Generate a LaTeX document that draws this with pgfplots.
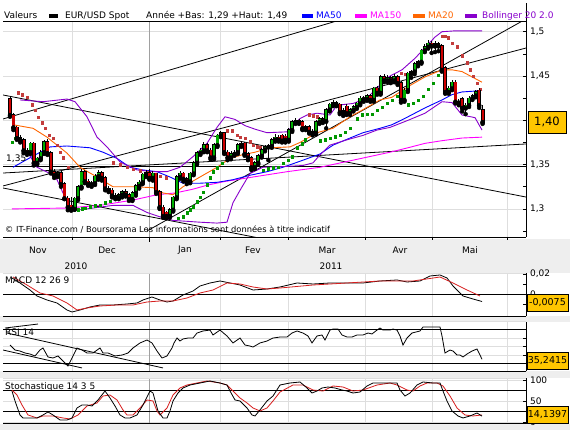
\documentclass[border=0pt]{standalone}
\usepackage{fontspec}
\setmainfont{DejaVu Sans}
\usepackage{pgfplots}
\usepackage{pgfplotstable}
\pgfplotsset{compat=1.18}
\definecolor{bg}{RGB}{238,238,238}
\definecolor{cgreen}{RGB}{0,175,0}
\definecolor{cred}{RGB}{205,0,0}
\definecolor{sarred}{RGB}{195,60,60}
\definecolor{sargreen}{RGB}{0,150,0}
\definecolor{ma50}{RGB}{0,0,255}
\definecolor{ma150}{RGB}{255,0,255}
\definecolor{ma20}{RGB}{255,102,0}
\definecolor{boll}{RGB}{136,0,204}
\definecolor{gridc}{RGB}{222,222,222}
\definecolor{yeargrid}{RGB}{160,160,160}
\definecolor{boxc}{RGB}{255,198,0}
\definecolor{sigred}{RGB}{215,30,30}

\pgfplotstableread{
x o h l c
30.4 1.364 1.376 1.362 1.374
37.2 1.352 1.359 1.350 1.357
40.6 1.357 1.366 1.355 1.364
44 1.364 1.378 1.362 1.376
57.6 1.338 1.343 1.336 1.341
74.6 1.300 1.314 1.299 1.312
78 1.312 1.327 1.310 1.325
81.4 1.325 1.345 1.323 1.342
91.6 1.328 1.332 1.325 1.329
95 1.329 1.339 1.327 1.337
98.4 1.337 1.344 1.333 1.341
118.8 1.313 1.318 1.311 1.316
122.2 1.316 1.321 1.313 1.319
132.4 1.311 1.320 1.309 1.318
135.8 1.318 1.328 1.315 1.326
139.2 1.326 1.333 1.323 1.330
142.6 1.330 1.341 1.328 1.339
146 1.339 1.344 1.336 1.341
152.8 1.335 1.343 1.332 1.340
169.8 1.292 1.301 1.290 1.299
173.2 1.299 1.315 1.297 1.313
176.6 1.313 1.338 1.311 1.336
180 1.336 1.343 1.334 1.340
190.2 1.331 1.342 1.329 1.340
193.6 1.340 1.354 1.338 1.352
197 1.352 1.365 1.350 1.363
200.4 1.363 1.369 1.361 1.366
203.8 1.366 1.375 1.364 1.372
214 1.358 1.374 1.356 1.372
217.4 1.372 1.385 1.370 1.383
220.8 1.383 1.388 1.381 1.386
231 1.358 1.365 1.356 1.362
234.4 1.362 1.367 1.360 1.364
237.8 1.364 1.374 1.362 1.372
241.2 1.372 1.377 1.370 1.374
254.8 1.347 1.354 1.345 1.352
258.2 1.352 1.362 1.350 1.360
261.6 1.360 1.369 1.358 1.367
265 1.367 1.372 1.365 1.370
268.4 1.370 1.373 1.355 1.371
271.8 1.371 1.380 1.369 1.378
275.2 1.378 1.384 1.376 1.381
288.8 1.378 1.391 1.376 1.389
292.2 1.389 1.400 1.387 1.398
295.6 1.398 1.403 1.396 1.400
305.8 1.391 1.395 1.389 1.393
316 1.386 1.400 1.384 1.398
319.4 1.398 1.404 1.396 1.402
326.2 1.399 1.414 1.391 1.412
329.6 1.412 1.420 1.410 1.418
333 1.418 1.423 1.416 1.420
343.2 1.409 1.414 1.405 1.411
350 1.408 1.414 1.406 1.412
353.4 1.412 1.417 1.410 1.415
356.8 1.415 1.421 1.413 1.419
360.2 1.419 1.427 1.417 1.425
367 1.424 1.430 1.422 1.428
373.8 1.423 1.438 1.421 1.436
380.6 1.431 1.451 1.429 1.449
387.4 1.445 1.451 1.443 1.448
394.2 1.445 1.452 1.443 1.449
404.4 1.423 1.436 1.421 1.434
407.8 1.434 1.455 1.432 1.453
411.2 1.453 1.457 1.448 1.455
414.6 1.455 1.466 1.452 1.464
418 1.464 1.468 1.461 1.466
421.4 1.466 1.481 1.464 1.479
424.8 1.479 1.486 1.477 1.483
428.2 1.483 1.491 1.481 1.487
435 1.484 1.489 1.477 1.486
448.6 1.432 1.439 1.430 1.436
452 1.436 1.446 1.434 1.443
465.6 1.414 1.419 1.407 1.417
469 1.417 1.427 1.415 1.425
472.4 1.425 1.430 1.423 1.428
475.8 1.428 1.434 1.426 1.432
}\upcandles

\pgfplotstableread{
x o h l c
10 1.424 1.426 1.404 1.406
13.4 1.406 1.408 1.389 1.392
16.8 1.392 1.394 1.378 1.380
20.2 1.380 1.383 1.375 1.378
23.6 1.378 1.380 1.363 1.366
27 1.366 1.369 1.361 1.364
33.8 1.374 1.376 1.349 1.352
47.4 1.376 1.379 1.361 1.363
50.8 1.363 1.365 1.340 1.342
54.2 1.342 1.345 1.335 1.338
61 1.341 1.343 1.325 1.328
64.4 1.328 1.330 1.311 1.312
67.8 1.312 1.315 1.2985 1.302
71.2 1.304 1.313 1.298 1.300
84.8 1.342 1.344 1.329 1.331
88.2 1.331 1.334 1.326 1.328
101.8 1.341 1.343 1.332 1.335
105.2 1.335 1.337 1.321 1.323
108.6 1.323 1.326 1.319 1.321
112 1.321 1.324 1.313 1.315
115.4 1.315 1.318 1.311 1.313
125.6 1.319 1.322 1.314 1.316
129 1.316 1.318 1.309 1.311
149.4 1.341 1.345 1.333 1.335
156.2 1.340 1.341 1.317 1.319
159.6 1.319 1.321 1.300 1.302
163 1.302 1.304 1.290 1.292
166.4 1.296 1.298 1.2895 1.292
183.4 1.340 1.342 1.331 1.334
186.8 1.334 1.336 1.328 1.331
207.2 1.372 1.374 1.364 1.366
210.6 1.366 1.369 1.356 1.358
224.2 1.386 1.387 1.362 1.364
227.6 1.364 1.367 1.355 1.358
244.6 1.374 1.376 1.360 1.362
248 1.362 1.364 1.355 1.358
251.4 1.358 1.360 1.344 1.347
278.6 1.381 1.383 1.376 1.378
282 1.383 1.385 1.375 1.377
285.4 1.382 1.384 1.375 1.378
299 1.400 1.402 1.396 1.398
302.4 1.398 1.400 1.389 1.391
309.2 1.393 1.395 1.385 1.387
312.6 1.387 1.390 1.383 1.386
322.8 1.402 1.404 1.397 1.399
336.4 1.420 1.422 1.416 1.418
339.8 1.418 1.420 1.407 1.409
346.6 1.416 1.418 1.406 1.408
363.6 1.425 1.428 1.421 1.424
370.4 1.428 1.430 1.421 1.423
377.2 1.436 1.439 1.429 1.431
384 1.449 1.452 1.443 1.445
390.8 1.448 1.450 1.442 1.445
397.6 1.449 1.451 1.440 1.442
401 1.442 1.444 1.420 1.423
431.6 1.487 1.490 1.476 1.484
438.4 1.486 1.488 1.478 1.484
441.8 1.484 1.486 1.455 1.457
445.2 1.459 1.461 1.430 1.432
455.4 1.443 1.445 1.419 1.421
458.8 1.421 1.424 1.417 1.420
462.2 1.424 1.426 1.410 1.414
479.2 1.434 1.436 1.414 1.417
482.6 1.412 1.417 1.396 1.398
}\downcandles

\pgfplotsset{
  panel/.style={
    scale only axis, width=523pt, xmin=3, xmax=526,
    anchor=south west,
    axis line style={draw=none},
    xtick={72.7,220.7,288,365.5,432.7,507.3}, xticklabels={},
    xtick style={draw=none},
    extra x ticks={149.8}, extra x tick labels={},
    extra x tick style={grid=major, major grid style={draw=yeargrid, line width=0.8pt}, xtick style={draw=none}},
    xmajorgrids, grid style={draw=gridc, line width=0.8pt},
    ytick pos=right, yticklabel pos=right, tick align=inside,
    major tick length=3pt, minor tick length=3pt,
    ytick style={black, line width=0.6pt},
    yticklabel style={font=\fontsize{9}{10}\selectfont, xshift=0.5pt},
    scaled y ticks=false,
    clip mode=individual,
  },
  wick/.style={only marks, mark=none, forget plot, error bars/.cd, y dir=plus, y explicit, error mark=none, error bar style={black, line width=0.9pt}},
  bodyout/.style={only marks, mark=none, forget plot, error bars/.cd, y dir=plus, y explicit, error mark=none, error bar style={black, line width=3.8pt}},
  bodyin/.style={only marks, mark=none, forget plot, error bars/.cd, y dir=plus, y explicit, error mark=none, error bar style={#1, line width=2.2pt}},
}

\begin{document}
\begin{tikzpicture}[font=\fontsize{9}{10.5}\selectfont]
\fill[bg] (0pt,0pt) rectangle (570pt,430pt);
\path[use as bounding box] (0pt,0pt) rectangle (570pt,430pt);
\fill[white] (0pt,191pt) rectangle (570pt,430pt);
\fill[white] (0pt,114pt) rectangle (570pt,157pt);
\fill[white] (0pt,58.65pt) rectangle (570pt,108pt);
\fill[white] (0pt,6.3pt) rectangle (570pt,52pt);

% ================= MAIN PRICE PANEL =================
\begin{axis}[panel, at={(3pt,193pt)}, height=215.2pt,
  ymin=1.2683, ymax=1.5112,
  ytick={1.3,1.35,1.4,1.45,1.5}, yticklabels={{1,3},{1,35},{},{1,45},{1,5}},
  minor ytick={1.275,1.325,1.375,1.425,1.475},
  minor tick style={black, line width=0.6pt},
  ymajorgrids]
% trend lines
\addplot[black, line width=0.8pt] coordinates {(3,1.4015) (340,1.5132)};
\addplot[black, line width=0.8pt] coordinates {(3,1.4286) (526,1.3134)};
\addplot[black, line width=0.8pt] coordinates {(3,1.3236) (262,1.2665)};
\addplot[black, line width=0.8pt] coordinates {(147,1.2751) (526,1.5144)};
\addplot[black, line width=0.8pt] coordinates {(3,1.3259) (526,1.4816)};
\addplot[black, line width=0.8pt] coordinates {(3,1.3405) (526,1.3733)};
\addplot[black, line width=1pt] coordinates {(3,1.3484) (526,1.3484)};
% MA150
\addplot[ma150, line width=0.9pt] coordinates {(12,1.300) (67,1.301) (100,1.304) (133,1.310) (157,1.316) (175,1.318) (192,1.322) (208,1.327) (225,1.331) (253,1.336) (287,1.342) (320,1.347) (353,1.355) (390,1.364) (408,1.369) (425,1.374) (442,1.377) (462,1.380) (482,1.381)};
% MA50
\addplot[ma50, line width=0.9pt] coordinates {(13,1.347) (32,1.359) (50,1.370) (67,1.371) (90,1.369) (103,1.364) (117,1.357) (130,1.347) (143,1.344) (157,1.342) (170,1.336) (183,1.329) (200,1.329) (217,1.330) (233,1.333) (250,1.338) (267,1.342) (283,1.347) (303,1.355) (320,1.362) (333,1.372) (350,1.380) (363,1.386) (380,1.391) (392,1.395) (408,1.404) (425,1.414) (442,1.423) (452,1.429) (462,1.432) (475,1.433) (482,1.434)};
% MA20
\addplot[ma20, line width=0.9pt] coordinates {(13,1.395) (33,1.391) (47,1.381) (67,1.363) (80,1.347) (97,1.336) (113,1.325) (133,1.325) (153,1.324) (163,1.318) (173,1.316) (183,1.325) (200,1.336) (217,1.347) (230,1.357) (242,1.361) (255,1.364) (270,1.369) (290,1.370) (300,1.375) (317,1.386) (333,1.391) (350,1.404) (363,1.412) (380,1.423) (392,1.426) (408,1.438) (425,1.449) (442,1.457) (452,1.457) (462,1.455) (472,1.449) (482,1.443)};
% Bollinger upper / lower
\addplot[boll, line width=0.9pt] coordinates {(20,1.423) (43,1.421) (67,1.424) (75,1.421) (87,1.404) (97,1.381) (107,1.370) (120,1.353) (137,1.344) (153,1.342) (167,1.342) (180,1.347) (193,1.359) (207,1.374) (217,1.392) (225,1.404) (235,1.401) (245,1.394) (255,1.390) (267,1.386) (287,1.387) (300,1.402) (307,1.406) (317,1.408) (330,1.406) (337,1.417) (353,1.419) (367,1.425) (380,1.440) (390,1.450) (402,1.457) (415,1.470) (425,1.482) (435,1.494) (442,1.500) (455,1.501) (482,1.501)};
\addplot[boll, line width=0.9pt] coordinates {(27,1.365) (37,1.347) (50,1.340) (57,1.333) (63,1.318) (70,1.302) (80,1.299) (100,1.302) (113,1.304) (133,1.304) (147,1.296) (160,1.291) (173,1.287) (187,1.286) (200,1.285) (217,1.284) (227,1.285) (233,1.307) (240,1.321) (250,1.340) (263,1.347) (287,1.348) (303,1.349) (313,1.352) (320,1.361) (330,1.372) (347,1.378) (363,1.383) (377,1.389) (390,1.392) (408,1.400) (425,1.408) (442,1.421) (452,1.420) (462,1.406) (475,1.403) (482,1.389)};
% Parabolic SAR
\addplot[only marks, mark=square*, mark size=1.3pt, color=sarred] coordinates {
(18,1.431) (22,1.4286) (27,1.4263) (32,1.4173) (35,1.4116) (38,1.4037) (42,1.397) (45,1.3913) (49,1.3834) (53,1.380) (57,1.3721) (60,1.3642) (63,1.3575) (68,1.3473)
(113,1.352) (120,1.350) (127,1.347) (133,1.345) (140,1.343) (147,1.341) (153,1.339) (160,1.337) (166,1.335)
(227,1.388) (232,1.388) (237,1.383) (240,1.381) (245,1.380) (250,1.376) (253,1.372) (257,1.370) (260,1.369)
(309,1.406) (313,1.405) (317,1.404)
(401,1.453) (405,1.452)
(442,1.495) (445,1.495) (448,1.493) (452,1.487) (457,1.483) (462,1.473) (467,1.465) (470,1.457) (473,1.450) (477,1.442) (480,1.435)};
\addplot[only marks, mark=square*, mark size=1.3pt, color=sargreen] coordinates {
(12,1.3755) (15,1.380)
(78,1.2988) (82,1.2999) (85,1.301) (90,1.3022) (95,1.3033) (100,1.3044) (105,1.3067) (110,1.3089)
(178,1.2897) (183,1.2909) (187,1.2954) (190,1.2988) (193,1.3022) (197,1.3078) (200,1.3134) (203,1.319) (207,1.327) (210,1.3349) (213,1.3417) (217,1.3462) (222,1.3518)
(263,1.3439) (268,1.3451) (273,1.3462) (278,1.3473) (283,1.3518) (288,1.3552) (292,1.3586) (297,1.3688) (302,1.3733) (305,1.3778)
(320,1.3767) (325,1.3778) (330,1.380) (335,1.3812) (340,1.3834) (345,1.3868) (350,1.3913) (357,1.4015) (362,1.406) (367,1.4071) (372,1.4071) (377,1.4116) (382,1.415) (387,1.4195) (392,1.4229) (397,1.427)
(408,1.4173) (413,1.4195) (418,1.4229) (423,1.4274) (428,1.4353) (433,1.4421) (438,1.4511) (442,1.4568)};
% candles
\addplot[wick] table[x=x, y=l, y error plus expr=\thisrow{h}-\thisrow{l}] {\upcandles};
\addplot[wick] table[x=x, y=l, y error plus expr=\thisrow{h}-\thisrow{l}] {\downcandles};
\addplot[bodyout] table[x=x, y expr=\thisrow{o}-0.0007, y error plus expr=\thisrow{c}-\thisrow{o}+0.0014] {\upcandles};
\addplot[bodyin=cgreen] table[x=x, y=o, y error plus expr=\thisrow{c}-\thisrow{o}] {\upcandles};
\addplot[bodyout] table[x=x, y expr=\thisrow{c}-0.0007, y error plus expr=\thisrow{o}-\thisrow{c}+0.0014] {\downcandles};
\addplot[bodyin=cred] table[x=x, y=c, y error plus expr=\thisrow{o}-\thisrow{c}] {\downcandles};
% frame
\draw[black, line width=0.9pt] (rel axis cs:0,1) -- (rel axis cs:1,1);
\draw[black, line width=0.9pt] (rel axis cs:0,0) -- (rel axis cs:1,0);
\draw[black, line width=0.9pt] (rel axis cs:1,0) -- (rel axis cs:1,1);
\end{axis}
\draw[black, line width=0.9pt] (526pt,408pt) -- (526pt,427pt);

% legend row
\node[anchor=base west, inner sep=0] at (4pt,411pt) {Valeurs};
\fill[black] (49pt,411.5pt) rectangle (58pt,415.5pt);
\node[anchor=base west, inner sep=0] at (65pt,411pt) {EUR/USD Spot};
\node[anchor=base west, inner sep=0] at (146pt,411pt) {Année +Bas: 1,29 +Haut: 1,49};
\fill[ma50] (302pt,411.5pt) rectangle (313pt,415.5pt);
\node[anchor=base west, inner sep=0, text=ma50] at (316pt,411pt) {MA50};
\fill[ma150] (355pt,411.5pt) rectangle (367pt,415.5pt);
\node[anchor=base west, inner sep=0, text=ma150] at (370pt,411pt) {MA150};
\fill[ma20] (413pt,411.5pt) rectangle (425pt,415.5pt);
\node[anchor=base west, inner sep=0, text=ma20] at (428pt,411pt) {MA20};
\fill[boll] (465pt,411.5pt) rectangle (477pt,415.5pt);
\node[anchor=base west, inner sep=0, text=boll] at (482pt,411pt) {Bollinger 20 2.0};

% texts inside main
\node[anchor=base west, inner sep=0, font=\fontsize{8.3}{10}\selectfont] at (5pt,197pt) {© IT-Finance.com / Boursorama Les informations sont données à titre indicatif};
\node[anchor=base west, inner sep=0] at (6pt,268pt) {1,35};

% month ticks and labels
\foreach \xx in {72.7,220.7,288,365.5,432.7,507.3} {\draw[black, line width=0.7pt] (\xx pt,193pt) -- (\xx pt,190pt);}
\draw[black, line width=0.7pt] (149.8pt,193pt) -- (149.8pt,188pt);
\node at (38pt,180pt) {Nov};
\node at (107pt,180pt) {Dec};
\node at (185pt,180pt) {Jan};
\node at (253pt,180pt) {Fev};
\node at (327pt,180pt) {Mar};
\node at (400pt,180pt) {Avr};
\node at (470pt,180pt) {Mai};
\node at (76pt,164pt) {2010};
\node at (331pt,164pt) {2011};

% ================= MACD =================
\begin{axis}[panel, at={(3pt,114pt)}, height=43pt,
  ymin=-0.022, ymax=0.021,
  ytick={-0.01,0,0.01,0.02}, yticklabels={{},{0},{},{0,02}}]
\addplot[black, line width=0.9pt] coordinates {(3,0) (526,0)};
\addplot[black, line width=0.8pt] coordinates {(12,0.016) (20,0.011) (30,0.004) (37,-0.002) (47,-0.006) (57,-0.009) (67,-0.016) (72,-0.018) (80,-0.016) (90,-0.013) (100,-0.011) (113,-0.011) (127,-0.010) (137,-0.009) (143,-0.006) (152,-0.003) (160,-0.006) (167,-0.008) (173,-0.007) (183,-0.001) (193,0.003) (200,0.008) (210,0.011) (220,0.013) (230,0.011) (240,0.009) (253,0.004) (267,0.005) (280,0.007) (297,0.011) (313,0.010) (330,0.011) (347,0.011) (363,0.011) (380,0.013) (397,0.014) (407,0.012) (420,0.013) (430,0.018) (440,0.019) (447,0.016) (453,0.008) (463,-0.002) (473,-0.005) (482,-0.0075)};
\addplot[sigred, line width=0.8pt] coordinates {(13,0.017) (27,0.009) (40,0.001) (53,-0.002) (67,-0.009) (77,-0.016) (87,-0.014) (100,-0.012) (117,-0.011) (133,-0.011) (147,-0.008) (160,-0.007) (173,-0.007) (187,-0.004) (200,0.001) (213,0.004) (227,0.011) (240,0.010) (253,0.007) (267,0.005) (280,0.006) (313,0.009) (347,0.011) (380,0.013) (413,0.013) (440,0.017) (453,0.011) (467,0.004) (480,-0.002)};
\draw[black, line width=0.9pt] (rel axis cs:0,0) -- (rel axis cs:1,0);
\draw[black, line width=0.9pt] (rel axis cs:1,0) -- (rel axis cs:1,1);
\draw[gridc, line width=0.8pt] (rel axis cs:0,1) -- (rel axis cs:1,1);
\end{axis}
\node[anchor=base west, inner sep=0] at (5pt,146pt) {MACD 12 26 9};

% ================= RSI =================
\begin{axis}[panel, at={(3pt,58.65pt)}, height=49.7pt,
  ymin=21, ymax=79.5,
  ytick={40,50,60}, yticklabels={}, ymajorgrids]
\addplot[black, line width=0.9pt] coordinates {(3,70) (526,70)};
\addplot[black, line width=0.9pt] coordinates {(3,30) (526,30)};
\addplot[black, line width=0.8pt] coordinates {(5,72.0) (38,76.7)};
\addplot[black, line width=0.8pt] coordinates {(7,66.1) (163,25.0)};
\addplot[black, line width=0.8pt] coordinates {(3,46.1) (82,25.0)};
\addplot[black, line width=0.8pt] coordinates {(10,52.0) (15,46.1) (20,44.9) (25,42.6) (30,41.4) (35,39.1) (40,46.1) (43,48.5) (48,37.9) (53,36.7) (58,39.1) (63,33.2) (67,28.5) (68,27.3) (72,36.7) (77,48.5) (82,46.1) (87,42.6) (93,42.6) (100,48.5) (103,42.6) (108,42.6) (115,39.1) (122,40.2) (128,42.6) (133,48.5) (140,54.4) (147,57.9) (152,54.4) (157,44.9) (162,36.7) (167,39.1) (172,48.5) (174,54.4) (177,60.2) (180,56.7) (183,59.1) (188,60.2) (193,60.2) (197,66.1) (203,68.5) (210,69.6) (213,63.8) (220,69.6) (227,62.6) (233,54.4) (240,60.2) (245,52.0) (250,50.8) (253,49.6) (260,54.4) (267,56.7) (273,60.2) (280,61.4) (287,61.4) (292,66.1) (297,68.5) (303,66.1) (308,62.6) (312,54.4) (317,62.6) (322,63.8) (325,57.9) (330,69.6) (333,70.8) (338,70.8) (342,63.8) (347,61.4) (352,61.4) (357,63.8) (363,63.8) (368,66.1) (372,65.0) (377,69.6) (380,72.0) (383,69.6) (390,69.6) (393,70.8) (397,69.6) (400,62.6) (403,52.0) (407,60.2) (412,66.1) (420,68.5) (423,73.2) (428,73.2) (437,73.2) (440,73.2) (442,62.6) (445,42.6) (450,46.1) (453,44.9) (457,40.2) (460,40.2) (463,37.9) (467,41.4) (472,44.9) (477,47.3) (480,40.2) (482,35.2)};
\draw[black, line width=0.9pt] (rel axis cs:0,0) -- (rel axis cs:1,0);
\draw[black, line width=0.9pt] (rel axis cs:1,0) -- (rel axis cs:1,1);
\draw[gridc, line width=0.8pt] (rel axis cs:0,1) -- (rel axis cs:1,1);
\end{axis}
\node[anchor=base west, inner sep=0] at (5pt,94pt) {RSI 14};

% ================= STOCHASTIC =================
\begin{axis}[panel, at={(3pt,6.3pt)}, height=45.7pt,
  ymin=-4.1, ymax=105.5,
  ytick={0,50,100}, yticklabels={{0},{50},{100}}, ymajorgrids]
\addplot[black, line width=0.9pt] coordinates {(3,75) (526,75)};
\addplot[black, line width=0.9pt] coordinates {(3,25) (526,25)};
\addplot[sigred, line width=0.8pt] coordinates {(12,76.7) (17,64.7) (22,40.8) (28,16.8) (37,9.6) (43,14.4) (53,14.4) (63,9.6) (70,7.2) (78,16.8) (87,38.4) (97,45.6) (103,62.3) (110,64.7) (117,52.8) (123,28.8) (127,16.8) (133,16.8) (140,33.6) (147,52.8) (153,50.4) (157,26.4) (160,16.8) (167,33.6) (173,64.7) (180,81.5) (187,88.7) (197,93.5) (207,98.3) (220,93.5) (227,88.7) (233,74.3) (240,57.6) (247,45.6) (253,33.6) (260,26.4) (267,33.6) (273,50.4) (280,71.9) (293,88.7) (303,88.7) (313,76.7) (323,74.3) (333,86.3) (343,83.9) (353,74.3) (363,76.7) (377,88.7) (390,93.5) (397,88.7) (407,76.7) (413,74.3) (420,86.3) (427,93.5) (437,93.5) (443,86.3) (450,62.3) (457,33.6) (465,16.8) (473,14.4) (482,16.8)};
\addplot[black, line width=0.8pt] coordinates {(12,74.3) (15,50.4) (20,16.8) (23,9.6) (30,9.6) (37,9.6) (43,16.8) (48,24.0) (53,16.8) (60,4.8) (67,4.8) (72,9.6) (77,33.6) (82,40.8) (87,40.8) (92,38.4) (98,52.8) (105,74.3) (110,57.6) (115,38.4) (120,16.8) (125,9.6) (130,9.6) (137,16.8) (143,40.8) (150,74.3) (153,69.5) (158,26.4) (163,9.6) (167,9.6) (170,26.4) (173,50.4) (178,69.5) (183,81.5) (190,88.7) (200,93.5) (210,98.3) (220,93.5) (227,88.7) (230,74.3) (235,52.8) (240,50.4) (247,33.6) (252,16.8) (255,14.4) (260,28.8) (267,50.4) (273,62.3) (280,88.7) (290,93.5) (300,95.9) (307,81.5) (312,69.5) (317,74.3) (322,81.5) (328,83.9) (335,81.5) (342,76.7) (347,74.3) (353,69.5) (360,71.9) (367,86.3) (373,93.5) (380,93.5) (390,93.5) (397,93.5) (400,76.7) (405,62.3) (410,69.5) (417,88.7) (423,95.9) (433,93.5) (440,93.5) (443,74.3) (447,50.4) (452,26.4) (458,14.4) (463,9.6) (470,14.4) (477,21.6) (482,14.1)};
\draw[black, line width=0.9pt] (rel axis cs:0,0) -- (rel axis cs:1,0);
\draw[black, line width=0.9pt] (rel axis cs:1,0) -- (rel axis cs:1,1);
\draw[gridc, line width=0.8pt] (rel axis cs:0,1) -- (rel axis cs:1,1);
\end{axis}
\node[anchor=base west, inner sep=0] at (5pt,40pt) {Stochastique 14 3 5};

% value boxes
\node[draw=black, fill=boxc, line width=0.7pt, minimum width=38pt, minimum height=22pt, inner sep=0, font=\fontsize{11.5}{13}\selectfont] at (547pt,308pt) {1,40};
\node[draw=black, fill=boxc, line width=0.7pt, minimum width=41pt, minimum height=17pt, inner sep=0, font=\fontsize{9.5}{11}\selectfont] at (547.5pt,127.5pt) {-0,0075};
\node[draw=black, fill=boxc, line width=0.7pt, minimum width=41pt, minimum height=17pt, inner sep=0, font=\fontsize{9.5}{11}\selectfont] at (547.5pt,69pt) {35,2415};
\node[draw=black, fill=boxc, line width=0.7pt, minimum width=41pt, minimum height=17pt, inner sep=0, font=\fontsize{9.5}{11}\selectfont] at (547.5pt,15.5pt) {14,1397};
\end{tikzpicture}
\end{document}
